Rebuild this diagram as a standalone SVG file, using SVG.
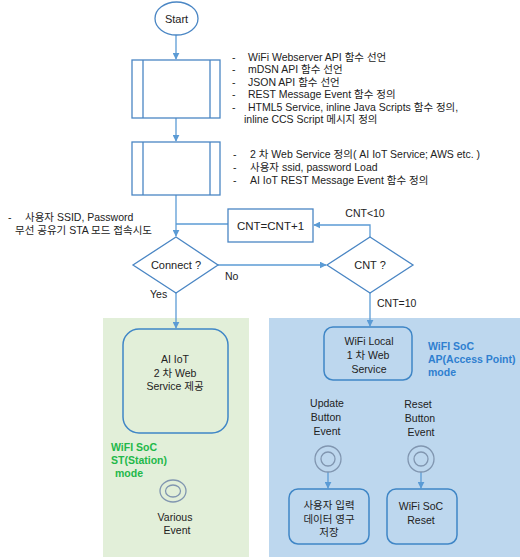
<svg xmlns="http://www.w3.org/2000/svg" width="520" height="560" viewBox="0 0 520 560">
<style>
text{font-family:"Liberation Sans","Noto Sans CJK KR",sans-serif;font-size:10.5px;fill:#222}
.c{text-anchor:middle}
.sh{fill:none;stroke:#4a86c4;stroke-width:1.3}
.bx{fill:#fff;stroke:#4a86c4;stroke-width:1.3}
.rb{fill:none;stroke:#3f86c6;stroke-width:1.5}
.ev{fill:none;stroke:#8196b0;stroke-width:1.3}
.ln{fill:none;stroke:#5b9bd5;stroke-width:1.3}
.g{fill:#22b84a;font-weight:bold}
.b{fill:#2f7fd0;font-weight:bold}
</style>
<defs>
<marker id="ah" viewBox="0 0 10 10" refX="9" refY="5" markerWidth="7" markerHeight="7" orient="auto" markerUnits="userSpaceOnUse">
<path d="M0,0 L10,5 L0,10 z" fill="#5b9bd5"/>
</marker>
</defs>
<rect x="103" y="318" width="146" height="239" fill="#e2efd9"/>
<rect x="269" y="318" width="251" height="239" fill="#bdd7ee"/>
<g id="connectors">
<line class="ln" x1="176" y1="35" x2="176" y2="59" marker-end="url(#ah)"/>
<line class="ln" x1="176" y1="118" x2="176" y2="141" marker-end="url(#ah)"/>
<line class="ln" x1="176" y1="195" x2="176" y2="236" marker-end="url(#ah)"/>
<polyline class="ln" points="228,224 176,224"/>
<polyline class="ln" points="370,237 370,225 314,225" marker-end="url(#ah)"/>
<line class="ln" x1="218" y1="265" x2="326" y2="265" marker-end="url(#ah)"/>
<line class="ln" x1="176" y1="293" x2="176" y2="328" marker-end="url(#ah)"/>
<line class="ln" x1="370" y1="293" x2="370" y2="326" marker-end="url(#ah)"/>
<line class="ln" x1="328" y1="472" x2="328" y2="488" marker-end="url(#ah)"/>
<line class="ln" x1="421" y1="472" x2="421" y2="488" marker-end="url(#ah)"/>
</g>
<g id="start">
<ellipse class="sh" cx="176.5" cy="18.5" rx="21.5" ry="16.5" fill="#fff"/>
<text class="c" x="176.5" y="22.5" style="font-size:11px">Start</text>
</g>
<g id="box1">
<rect class="bx" x="132" y="60" width="88" height="58"/>
<line class="sh" x1="143" y1="60" x2="143" y2="118"/>
<line class="sh" x1="210" y1="60" x2="210" y2="118"/>
</g>
<g id="notes1">
<text x="232" y="60.5">-</text><text x="248" y="60.5">WiFi Webserver API 함수 선언</text>
<text x="232" y="73">-</text><text x="248" y="73">mDSN API 함수 선언</text>
<text x="232" y="85.5">-</text><text x="248" y="85.5">JSON API 함수 선언</text>
<text x="232" y="98">-</text><text x="248" y="98">REST Message Event 함수 정의</text>
<text x="232" y="110.5">-</text><text x="248" y="110.5">HTML5 Service, inline Java Scripts 함수 정의,</text>
<text x="244" y="123">inline CCS Script 메시지 정의</text>
</g>
<g id="box2">
<rect class="bx" x="132" y="142" width="88" height="53"/>
<line class="sh" x1="143" y1="142" x2="143" y2="195"/>
<line class="sh" x1="210" y1="142" x2="210" y2="195"/>
</g>
<g id="notes2">
<text x="233" y="158">-</text><text x="250" y="158">2 차 Web Service 정의( AI IoT Service; AWS etc. )</text>
<text x="233" y="171">-</text><text x="250" y="171">사용자 ssid, password Load</text>
<text x="233" y="184">-</text><text x="250" y="184">AI IoT REST Message Event 함수 정의</text>
</g>
<g id="notes3">
<text x="8" y="221">-</text><text x="25" y="221">사용자 SSID, Password</text>
<text x="15" y="234">무선 공유기  STA 모드 접속시도</text>
</g>
<g id="cnt-inc">
<rect class="bx" x="228" y="209" width="85" height="33"/>
<text class="c" x="270.5" y="229.5" style="font-size:11.5px">CNT=CNT+1</text>
</g>
<text class="c" x="365" y="217">CNT&lt;10</text>
<g id="connect">
<polygon class="sh" points="176,237 218,265 176,293 133,265" fill="#fff"/>
<text class="c" x="176" y="269" style="font-size:11px">Connect ?</text>
</g>
<text x="225" y="280">No</text>
<text x="150" y="298">Yes</text>
<g id="cnt">
<polygon class="sh" points="370,237 413,265 370,293 327,265" fill="#fff"/>
<text class="c" x="370" y="269" style="font-size:11px">CNT ?</text>
</g>
<text x="377" y="307">CNT=10</text>
<g id="aiiot">
<rect class="rb" x="123" y="329" width="105" height="104" rx="16"/>
<text class="c" x="175" y="363">AI IoT</text>
<text class="c" x="175" y="377">2 차 Web</text>
<text class="c" x="175" y="390">Service 제공</text>
</g>
<g id="st-label">
<text class="g" x="111" y="451">WiFI SoC</text>
<text class="g" x="111" y="464">ST(Station)</text>
<text class="g" x="115" y="477">mode</text>
</g>
<g id="various">
<ellipse class="ev" cx="173" cy="491" rx="13" ry="11"/>
<ellipse class="ev" cx="173" cy="491" rx="7.5" ry="6"/>
<text class="c" x="175" y="521">Various</text>
<text class="c" x="177" y="534">Event</text>
</g>
<g id="wifilocal">
<rect class="rb" x="324" y="327" width="88" height="53" rx="9"/>
<text class="c" x="369" y="345">WiFi  Local</text>
<text class="c" x="368" y="359">1 차 Web</text>
<text class="c" x="369" y="373">Service</text>
</g>
<g id="ap-label">
<text class="b" x="428" y="350">WiFI SoC</text>
<text class="b" x="428" y="363">AP(Access Point)</text>
<text class="b" x="428" y="376">mode</text>
</g>
<g id="update">
<text class="c" x="327" y="407">Update</text>
<text class="c" x="326" y="420.5">Button</text>
<text class="c" x="327" y="435">Event</text>
<circle class="ev" cx="328" cy="459" r="13"/>
<circle class="ev" cx="328" cy="459" r="7"/>
</g>
<g id="reset">
<text class="c" x="418" y="408">Reset</text>
<text class="c" x="420" y="421.5">Button</text>
<text class="c" x="421" y="436">Event</text>
<circle class="ev" cx="421" cy="459" r="13"/>
<circle class="ev" cx="421" cy="459" r="7"/>
</g>
<g id="save">
<rect class="rb" x="289" y="489" width="80" height="55" rx="9"/>
<text class="c" x="329" y="509">사용자 입력</text>
<text class="c" x="329" y="522.5">데이터 영구</text>
<text class="c" x="329" y="536">저장</text>
</g>
<g id="socreset">
<rect class="rb" x="387" y="489" width="70" height="55" rx="9"/>
<text class="c" x="421" y="510">WiFi SoC</text>
<text class="c" x="421" y="523.5">Reset</text>
</g>
</svg>
